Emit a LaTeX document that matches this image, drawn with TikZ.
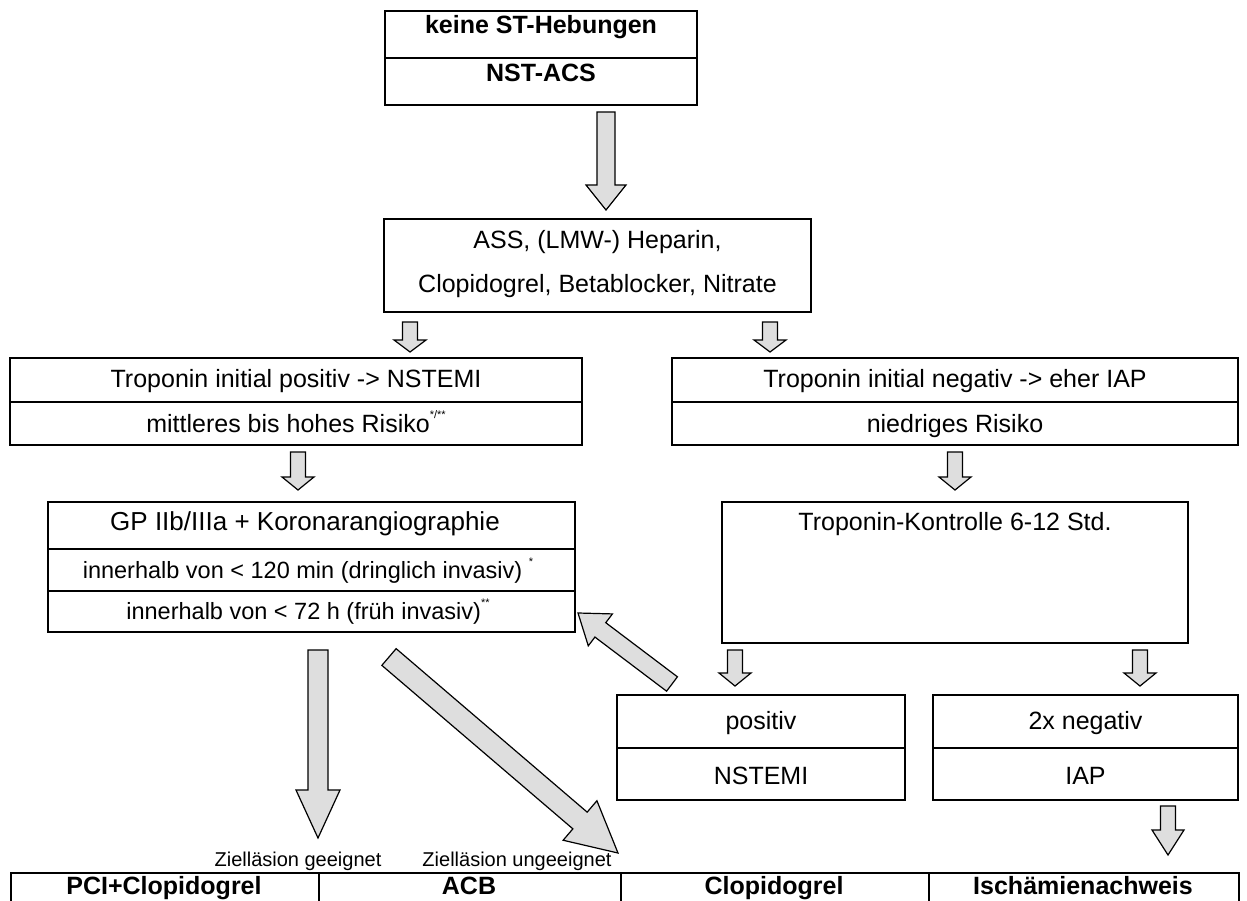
\documentclass[tikz,border=0pt]{standalone}
\usepackage{fontspec}
\setmainfont{Liberation Sans}
\usetikzlibrary{calc}
\tikzset{
  box/.style={draw, line width=2pt, inner sep=0pt},
  divider/.style={line width=2pt},
  lbl/.style={font=\fontsize{25}{30}\selectfont, inner sep=0pt, anchor=base},
  blbl/.style={font=\bfseries\fontsize{25}{30}\selectfont, inner sep=0pt, anchor=base},
  glbl/.style={font=\fontsize{26}{30}\selectfont, inner sep=0pt, anchor=base},
  slbl/.style={font=\fontsize{23.5}{28}\selectfont, inner sep=0pt, anchor=base},
  tlbl/.style={font=\fontsize{20}{24}\selectfont, inner sep=0pt, anchor=base},
  blockarrow/.style={draw=black, line width=1.2pt, fill=black!13, line join=miter},
}
\newcommand\supmark[1]{\raisebox{0.55em}{\fontsize{11}{11}\selectfont #1}}
\newcommand\blockarr[5]{%
  \coordinate (baH) at ($(#2)!#5!(#1)$);
  \filldraw[blockarrow] ($(#1)!#3!90:(#2)$) -- ($(baH)!#3!90:(#2)$) -- ($(baH)!#4!90:(#2)$)
    -- (#2) -- ($(baH)!#4!-90:(#2)$) -- ($(baH)!#3!-90:(#2)$) -- ($(#1)!#3!-90:(#2)$) -- cycle;}
\begin{document}
\begin{tikzpicture}[x=1pt,y=-1pt]
\useasboundingbox (0,0) rectangle (1247,901);
\fill[white] (0,0) rectangle (1247,901);

% top box
\node[box, minimum width=312pt, minimum height=94pt] (top) at (541,58) {};
\draw[divider] (top.west) -- (top.east);
\node[blbl] (t1) at (541,34) {keine ST-Hebungen};
\node[blbl] (t2) at (541,82) {NST-ACS};

% ASS box
\node[box, minimum width=427pt, minimum height=93pt] (ass) at (597.5,265.5) {};
\node[lbl] (ass1) at (597.5,249) {ASS, (LMW-) Heparin,};
\node[lbl] (ass2) at (597.5,292) {Clopidogrel, Betablocker, Nitrate};

% Troponin boxes
\node[box, minimum width=572pt, minimum height=87pt] (tpos) at (296,401.5) {};
\draw[divider] (tpos.west) -- (tpos.east);
\node[lbl] (tpos1) at (296,387) {Troponin initial positiv -> NSTEMI};
\node[lbl] (tpos2) at (296,432) {mittleres bis hohes Risiko\supmark{*/**}};

\node[box, minimum width=566pt, minimum height=87pt] (tneg) at (955,401.5) {};
\draw[divider] (tneg.west) -- (tneg.east);
\node[lbl] (tneg1) at (955,387) {Troponin initial negativ -> eher IAP};
\node[lbl] (tneg2) at (955,432) {niedriges Risiko};

% GP box
\node[box, minimum width=527pt, minimum height=130pt] (gp) at (311.5,567) {};
\draw[divider] (gp.west |- 0,549) -- (gp.east |- 0,549);
\draw[divider] (gp.west |- 0,591) -- (gp.east |- 0,591);
\node[glbl] (gp1) at (305,530) {GP IIb/IIIa + Koronarangiographie};
\node[slbl] (gp2) at (308,578) {innerhalb von < 120 min (dringlich invasiv)\ \supmark{*}};
\node[slbl] (gp3) at (308,619) {innerhalb von < 72 h (früh invasiv)\supmark{**}};

% Troponin-Kontrolle box
\node[box, minimum width=466pt, minimum height=141pt] (ctrl) at (955,572.5) {};
\node[lbl] (ctrl1) at (955,530) {Troponin-Kontrolle 6-12 Std.};

% positiv / negativ boxes
\node[box, minimum width=288pt, minimum height=105pt] (pos) at (761,747.5) {};
\draw[divider] (pos.west) -- (pos.east);
\node[lbl] (pos1) at (761,729) {positiv};
\node[lbl] (pos2) at (761,784) {NSTEMI};

\node[box, minimum width=305pt, minimum height=105pt] (neg) at (1085.5,747.5) {};
\draw[divider] (neg.west) -- (neg.east);
\node[lbl] (neg1) at (1085.5,729) {2x negativ};
\node[lbl] (neg2) at (1085.5,784) {IAP};

% labels
\node[tlbl] (lgeeig) at (298,866) {Zielläsion geeignet};
\node[tlbl] (lunge) at (517,866) {Zielläsion ungeeignet};

% bottom row
\begin{scope}
\clip (0,0) rectangle (1247,901);
\node[box, minimum width=308pt, minimum height=60pt, anchor=north west] (b1) at (10,872) {};
\node[box, minimum width=302pt, minimum height=60pt, anchor=north west] (b2) at (318,872) {};
\node[box, minimum width=308pt, minimum height=60pt, anchor=north west] (b3) at (620,872) {};
\node[box, minimum width=310pt, minimum height=60pt, anchor=north west] (b4) at (928,872) {};
\end{scope}
\node[blbl] (b1t) at (164,894) {PCI+Clopidogrel};
\node[blbl] (b2t) at (469,894) {ACB};
\node[blbl] (b3t) at (774,894) {Clopidogrel};
\node[blbl] (b4t) at (1083,894) {Ischämienachweis};

% arrow end points
\coordinate (a1s) at (606,112);  \coordinate (a1e) at (606,210);
\coordinate (a2s) at (410,322);  \coordinate (a2e) at (410,352);
\coordinate (a3s) at (770,322);  \coordinate (a3e) at (770,352);
\coordinate (a4s) at (298,452);  \coordinate (a4e) at (298,490);
\coordinate (a5s) at (955,452);  \coordinate (a5e) at (955,490);
\coordinate (a6s) at (735,650);  \coordinate (a6e) at (735,686);
\coordinate (a7s) at (1140,650); \coordinate (a7e) at (1140,686);
\coordinate (a8s) at (672,684);  \coordinate (a8e) at (578,613);
\coordinate (a9s) at (318,650);  \coordinate (a9e) at (318,838);
\coordinate (a10s) at (389,657); \coordinate (a10e) at (618,853);
\coordinate (a11s) at (1168,806); \coordinate (a11e) at (1168,855);

\blockarr{a1s}{a1e}{9pt}{20pt}{25pt}
\blockarr{a2s}{a2e}{7.5pt}{16pt}{12pt}
\blockarr{a3s}{a3e}{7.5pt}{16pt}{12pt}
\blockarr{a4s}{a4e}{7.5pt}{16pt}{13pt}
\blockarr{a5s}{a5e}{7.5pt}{16pt}{13pt}
\blockarr{a6s}{a6e}{7.5pt}{16pt}{13pt}
\blockarr{a7s}{a7e}{7.5pt}{16pt}{13pt}
\blockarr{a8s}{a8e}{9pt}{20pt}{28pt}
\blockarr{a9s}{a9e}{10pt}{22pt}{48pt}
\blockarr{a10s}{a10e}{11pt}{26pt}{50pt}
\blockarr{a11s}{a11e}{7.5pt}{16pt}{25pt}
\end{tikzpicture}
\end{document}
